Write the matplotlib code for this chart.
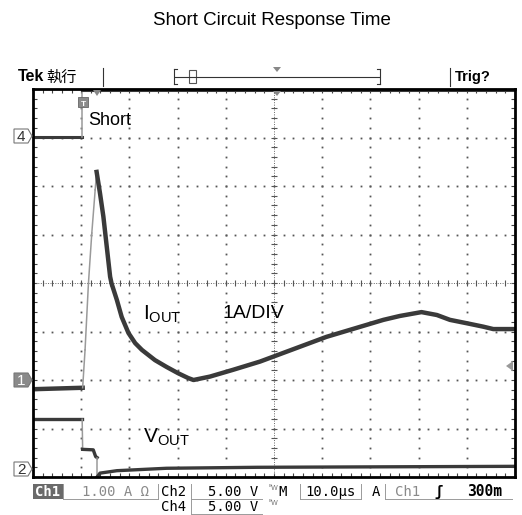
import numpy as np
import matplotlib.pyplot as plt
from matplotlib.patches import Polygon, Rectangle

W, H = 522, 515

# screen divisions: 10 across, 8 up (x from left edge, y from bottom edge)
ch4_x = [0.0, 1.02, 1.02, 10.0]
ch4_y = [7.01, 7.01, 7.97, 7.97]

iout_x = [0.0, 1.03, 1.08, 1.15, 1.22, 1.29, 1.32, 1.39, 1.46, 1.53, 1.60, 1.63,
          1.74, 1.84, 1.98, 2.12, 2.26, 2.53, 2.77, 3.01, 3.22, 3.33, 3.67,
          4.15, 4.71, 6.09, 7.27, 7.61, 8.06, 8.38, 8.65, 9.00, 9.34, 9.55, 10.0]
iout_y = [1.81, 1.84, 2.62, 3.99, 5.03, 5.92, 6.29, 5.85, 5.37, 4.75, 4.13, 3.99,
          3.65, 3.30, 2.97, 2.76, 2.62, 2.41, 2.27, 2.14, 2.04, 2.00, 2.07,
          2.21, 2.38, 2.89, 3.24, 3.32, 3.40, 3.34, 3.24, 3.17, 3.10, 3.05, 3.05]

vout_x = [0.0, 1.02, 1.03, 1.25, 1.30, 1.33, 1.33, 1.39, 1.74, 2.77, 4.64, 10.0]
vout_y = [1.19, 1.19, 0.57, 0.56, 0.42, 0.40, 0.0, 0.08, 0.13, 0.18, 0.20, 0.22]

DARK = '#3a3a3a'
EDGE = '#9a9a9a'


def P(x, y):
    return (x / W, 1 - y / H)


def ft(x, y, s, **kw):
    fig.text(x / W, 1 - y / H, s, **kw)


def trace(ax, xs, ys, lw):
    # fast edges are drawn dim like on the scope screen
    run_x, run_y = [xs[0]], [ys[0]]
    for i in range(len(xs) - 1):
        dx = xs[i + 1] - xs[i]
        dy = ys[i + 1] - ys[i]
        steep = dx == 0 or abs(dy / dx) > 10
        if steep:
            if len(run_x) > 1:
                ax.plot(run_x, run_y, color=DARK, lw=lw, solid_joinstyle='round')
            ax.plot(xs[i:i + 2], ys[i:i + 2], color=EDGE, lw=1.1)
            run_x, run_y = [xs[i + 1]], [ys[i + 1]]
        else:
            run_x.append(xs[i + 1])
            run_y.append(ys[i + 1])
    if len(run_x) > 1:
        ax.plot(run_x, run_y, color=DARK, lw=lw, solid_joinstyle='round')


plt.rcParams['font.family'] = ['Liberation Sans', 'DejaVu Sans']

fig = plt.figure(figsize=(W / 100, H / 100), dpi=100)
ax = fig.add_axes([33 / W, (H - 477) / H, 482 / W, 388 / H])
ax.set_xlim(0, 10)
ax.set_ylim(0, 8)

# dotted graticule
sub_y = np.arange(1, 40) * 0.2
sub_x = np.arange(1, 50) * 0.2
for i in range(1, 10):
    if i != 5:
        ax.plot([i] * len(sub_y), sub_y, ls='none', marker='s', ms=1.3, mew=0, color='#555555')
for j in range(1, 8):
    if j != 4:
        ax.plot(sub_x, [j] * len(sub_x), ls='none', marker='s', ms=1.3, mew=0, color='#555555')
ax.axvline(5, ls=(0, (1, 1.5)), lw=0.7, color='#666666')
ax.axhline(4, ls=(0, (1, 1.5)), lw=0.7, color='#666666')
ax.plot([5] * len(sub_y), sub_y, ls='none', marker='_', ms=5, mew=0.8, color='#555555')
ax.plot(sub_x, [4] * len(sub_x), ls='none', marker='|', ms=5, mew=0.8, color='#555555')

ax.set_xticks(np.arange(0, 10.01, 0.2))
ax.set_yticks(np.arange(0, 8.01, 0.2))
ax.tick_params(direction='in', length=3, width=0.8, color='#444444', top=True, right=True,
               labelbottom=False, labelleft=False)
for sp in ax.spines.values():
    sp.set_linewidth(2)
    sp.set_color('black')

trace(ax, ch4_x, ch4_y, 2.2)
trace(ax, vout_x, vout_y, 2.4)
trace(ax, iout_x, iout_y, 3.2)

# labels on the screen
ft(88, 125, 'Short', fontsize=13, color='black')
ft(143, 320, r'$\mathregular{I_{OUT}}$', fontsize=15, color='black')
ft(222, 318, '1A/DIV', fontsize=14, color='black')
ft(143, 443, r'$\mathregular{V_{OUT}}$', fontsize=15, color='black')

# title
ft(272, 25, 'Short Circuit Response Time', fontsize=13.5, ha='center')

# header line of the scope
ft(18, 81, 'Tek', fontsize=11.5, fontweight='bold')
ft(46, 82, '執行', fontsize=11, family=['Noto Sans CJK TC', 'DejaVu Sans'])
ft(455, 81, 'Trig?', fontsize=10.5, fontweight='bold')
for xs, ys in [((103, 103), (68, 86)), ((450, 450), (68, 86)),
               ((175, 379), (76.5, 76.5)), ((174, 174), (69, 84)), ((380, 380), (69, 84)),
               ((174, 177), (69, 69)), ((174, 177), (84, 84)), ((377, 380), (69, 69)),
               ((377, 380), (84, 84))]:
    fig.add_artist(plt.Line2D([x / W for x in xs], [1 - y / H for y in ys],
                              color='#333333', lw=0.8))
fig.add_artist(Rectangle(P(189, 83), 7 / W, 13 / H, facecolor='white', edgecolor='#555555', lw=0.8))
fig.add_artist(Polygon([P(273, 67), P(281, 67), P(277, 72)], closed=True, facecolor='#888888',
                       edgecolor='none'))

# markers along the top edge of the screen
fig.add_artist(Rectangle(P(78, 107), 10 / W, 10 / H, facecolor='#8a8a8a', edgecolor='#666666', lw=0.6))
ft(83, 105.5, 'T', fontsize=6, color='white', ha='center', fontweight='bold')
fig.add_artist(Polygon([P(93, 90), P(101, 90), P(97, 96)], closed=True, facecolor='#888888',
                       edgecolor='none'))
fig.add_artist(Polygon([P(273, 91), P(281, 91), P(277, 96)], closed=True, facecolor='#888888',
                       edgecolor='none'))

# channel markers on the left
for lab, yc, filled in [('4', 136, False), ('1', 380, True), ('2', 469, False)]:
    pts = [P(14, yc - 7), P(28, yc - 7), P(32, yc), P(28, yc + 7), P(14, yc + 7)]
    fig.add_artist(Polygon(pts, closed=True, facecolor='#8a8a8a' if filled else 'white',
                           edgecolor='#777777', lw=0.8))
    ft(21, yc + 5, lab, fontsize=11, ha='center', color='white' if filled else '#333333')

# trigger level arrow on the right
fig.add_artist(Polygon([P(506, 366), P(513, 361), P(513, 371)], closed=True,
                       facecolor='#999999', edgecolor='none'))

# status bar
mono = dict(family='DejaVu Sans Mono', fontsize=10)
fig.add_artist(Rectangle(P(33, 499), 30 / W, 15 / H, facecolor='#6a6a6a', edgecolor='none'))
ft(35, 496, 'Ch1', color='white', fontweight='bold', **mono)
ft(82, 496, '1.00 A Ω', color='#8a8a8a', **mono)
ft(161, 496, 'Ch2', color='black', **mono)
ft(208, 496, '5.00 V', color='black', **mono)
ft(269, 490, 'ᴮW', color='#777777', family='DejaVu Sans', fontsize=5)
ft(278, 496, 'M', color='black', **mono)
ft(305, 496, '10.0µs', color='black', **mono)
ft(372, 496, 'A', color='black', **mono)
ft(395, 496, 'Ch1', color='#8a8a8a', **mono)
ft(434, 496, 'ʃ', color='black', fontweight='bold', **mono)
ft(467, 496, '300m', color='black', fontweight='bold', family='DejaVu Sans Mono', fontsize=10.5)
ft(161, 511, 'Ch4', color='black', **mono)
ft(208, 511, '5.00 V', color='black', **mono)
ft(269, 505, 'ᴮW', color='#777777', family='DejaVu Sans', fontsize=5)
for xs, ys in [((63, 63), (484, 499)), ((63, 158), (499, 499)), ((158, 158), (484, 499)),
               ((191, 191), (484, 514)), ((191, 262), (499, 499)), ((191, 262), (514, 514)),
               ((300, 300), (484, 499)), ((300, 361), (499, 499)), ((361, 361), (484, 499)),
               ((385, 385), (484, 499)), ((385, 512), (499, 499))]:
    fig.add_artist(plt.Line2D([x / W for x in xs], [1 - y / H for y in ys],
                              color='#9a9a9a', lw=0.7))

fig.savefig('out.png', dpi=100)
